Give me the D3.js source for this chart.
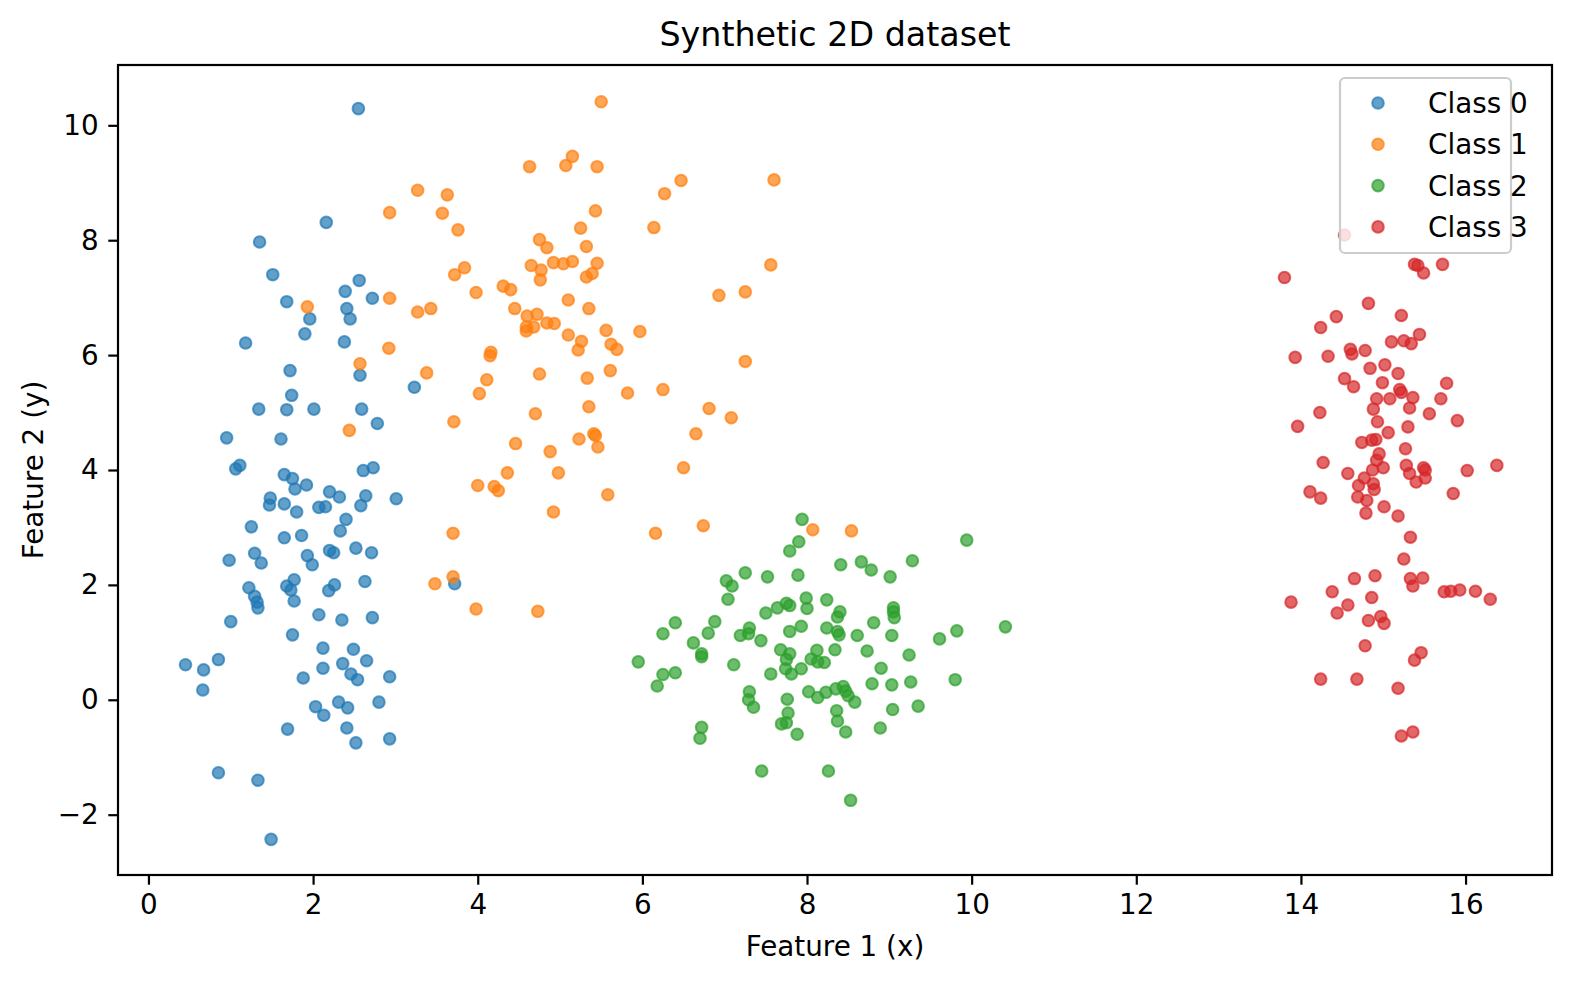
<!DOCTYPE html>
<html><head><meta charset="utf-8">
<script src="https://cdn.jsdelivr.net/npm/d3@7"></script>
<style>body{margin:0;background:#fff} svg{display:block} text{font-family:"DejaVu Sans",sans-serif;fill:#000}</style>
</head><body><svg id="chart" width="1576" height="986"></svg>
<script>
const classNames = ["Class 0", "Class 1", "Class 2", "Class 3"];
const classColors = ["#1f77b4", "#ff7f0e", "#2ca02c", "#d62728"];

const class0 = [[2.55,10.29],[2.16,8.31],[1.35,7.97],[1.51,7.40],[1.68,6.93],[1.96,6.63],[1.90,6.37],[1.18,6.21],[1.72,5.73],[2.56,7.30],[2.39,7.11],[2.72,6.99],[2.41,6.81],[2.45,6.63],[2.38,6.23],[2.57,5.65],[3.23,5.44],[1.74,5.30],[1.34,5.06],[1.68,5.05],[2.01,5.06],[2.59,5.06],[2.78,4.81],[0.95,4.56],[1.61,4.54],[1.06,4.02],[1.11,4.08],[1.65,3.92],[1.75,3.85],[1.78,3.67],[1.92,3.74],[2.20,3.62],[2.32,3.53],[2.61,3.99],[2.73,4.04],[2.64,3.55],[2.58,3.38],[3.01,3.50],[1.48,3.51],[1.47,3.39],[1.65,3.41],[1.80,3.27],[2.07,3.35],[2.15,3.36],[2.40,3.14],[2.33,2.94],[1.25,3.01],[1.65,2.82],[1.86,2.86],[2.20,2.60],[2.25,2.56],[2.52,2.64],[2.71,2.56],[0.98,2.43],[1.29,2.55],[1.37,2.38],[1.93,2.51],[1.99,2.35],[1.22,1.95],[1.29,1.80],[1.32,1.70],[1.33,1.60],[1.68,1.98],[1.77,2.09],[1.73,1.91],[1.77,1.72],[2.19,1.90],[2.26,2.00],[2.63,2.06],[2.07,1.48],[2.35,1.39],[2.72,1.43],[1.00,1.36],[1.75,1.13],[2.12,0.90],[2.49,0.88],[2.65,0.68],[2.36,0.63],[2.46,0.45],[2.54,0.35],[2.93,0.40],[2.12,0.55],[1.88,0.38],[0.45,0.61],[0.67,0.52],[0.85,0.70],[0.66,0.17],[2.03,-0.12],[2.13,-0.27],[2.31,-0.04],[2.42,-0.14],[2.80,-0.04],[2.41,-0.49],[2.52,-0.75],[2.93,-0.68],[1.69,-0.51],[0.85,-1.27],[1.33,-1.40],[1.49,-2.43],[3.72,2.02]];

const class1 = [[4.63,9.28],[3.27,8.87],[3.63,8.79],[2.93,8.48],[3.57,8.47],[3.76,8.18],[4.75,8.01],[4.84,7.87],[4.65,7.56],[4.77,7.48],[4.76,7.31],[3.84,7.52],[3.72,7.40],[4.31,7.20],[4.40,7.14],[3.98,7.09],[2.93,6.99],[1.93,6.84],[3.27,6.75],[3.43,6.81],[4.45,6.81],[4.60,6.68],[4.72,6.71],[4.84,6.56],[4.59,6.49],[4.59,6.42],[4.68,6.49],[2.92,6.12],[4.16,6.05],[4.15,5.99],[5.50,10.41],[5.15,9.46],[5.07,9.30],[5.45,9.28],[6.47,9.04],[6.27,8.81],[7.60,9.05],[5.43,8.51],[5.25,8.21],[6.14,8.22],[5.32,7.89],[4.92,7.61],[5.04,7.59],[5.15,7.63],[5.45,7.60],[5.32,7.36],[5.39,7.42],[7.56,7.57],[5.10,6.96],[5.35,6.81],[6.93,7.04],[7.25,7.10],[4.93,6.55],[5.10,6.35],[5.26,6.24],[5.22,6.09],[5.56,6.43],[5.97,6.41],[5.62,6.19],[5.69,6.10],[3.38,5.69],[4.11,5.57],[4.02,5.33],[4.75,5.67],[5.33,5.60],[5.61,5.73],[5.82,5.34],[6.25,5.40],[5.35,5.10],[4.70,4.98],[6.81,5.07],[7.08,4.91],[3.71,4.84],[5.41,4.63],[5.43,4.60],[5.23,4.54],[5.46,4.40],[6.65,4.63],[4.46,4.46],[4.88,4.32],[4.36,3.95],[4.98,3.95],[6.50,4.04],[4.00,3.73],[4.20,3.71],[4.25,3.64],[5.58,3.57],[4.92,3.27],[3.70,2.90],[6.16,2.90],[6.74,3.03],[3.70,2.14],[3.48,2.02],[3.98,1.58],[4.73,1.54],[2.57,5.85],[2.44,4.69],[7.25,5.89],[8.07,2.96],[8.54,2.94]];

const class2 = [[7.94,3.14],[7.90,2.75],[7.79,2.59],[7.25,2.21],[7.52,2.14],[7.89,2.17],[7.02,2.07],[7.09,1.98],[7.04,1.75],[7.99,1.77],[8.00,1.59],[7.50,1.51],[7.64,1.60],[7.75,1.68],[7.79,1.64],[6.40,1.34],[6.25,1.15],[6.88,1.36],[6.80,1.16],[6.62,0.99],[6.72,0.80],[6.72,0.75],[5.95,0.66],[7.30,1.25],[7.19,1.12],[7.29,1.15],[7.44,1.03],[7.79,1.19],[7.93,1.28],[7.11,0.61],[7.68,0.87],[7.79,0.80],[7.75,0.70],[7.74,0.54],[7.81,0.45],[7.93,0.54],[7.56,0.45],[8.12,0.86],[8.05,0.71],[8.13,0.66],[8.21,0.65],[6.25,0.44],[6.40,0.47],[6.18,0.24],[7.30,0.14],[7.29,0.00],[7.35,-0.13],[7.76,0.01],[8.02,0.14],[8.13,0.04],[7.77,-0.23],[7.69,-0.42],[7.75,-0.40],[7.88,-0.60],[6.72,-0.48],[6.70,-0.67],[7.45,-1.24],[9.94,2.78],[8.41,2.35],[8.66,2.40],[8.78,2.26],[9.01,2.14],[9.28,2.42],[8.24,1.74],[8.40,1.53],[8.37,1.44],[9.05,1.60],[9.05,1.53],[9.06,1.43],[8.24,1.25],[8.37,1.19],[8.39,1.13],[8.61,1.12],[8.81,1.34],[9.03,1.12],[9.61,1.06],[9.82,1.20],[10.41,1.27],[8.34,0.87],[8.73,0.85],[9.24,0.78],[8.90,0.55],[8.23,0.13],[8.35,0.19],[8.44,0.23],[8.47,0.15],[8.50,0.07],[8.58,-0.04],[8.79,0.28],[9.03,0.26],[9.26,0.31],[9.80,0.35],[8.36,-0.19],[8.37,-0.37],[8.47,-0.56],[9.04,-0.17],[9.35,-0.11],[8.89,-0.49],[8.26,-1.24],[8.53,-1.75]];

const class3 = [[14.53,8.09],[13.80,7.35],[15.38,7.58],[15.42,7.56],[15.49,7.43],[15.72,7.58],[14.82,6.90],[14.43,6.67],[14.24,6.48],[15.22,6.69],[15.44,6.36],[15.10,6.23],[15.25,6.25],[15.34,6.20],[13.93,5.96],[14.33,5.98],[14.60,6.10],[14.62,6.02],[14.78,6.08],[14.84,5.77],[15.02,5.83],[15.18,5.68],[14.53,5.59],[14.64,5.45],[14.99,5.52],[15.77,5.51],[15.20,5.40],[15.22,5.35],[14.92,5.24],[15.08,5.24],[15.36,5.26],[15.70,5.24],[14.88,5.06],[15.32,5.08],[15.56,4.98],[14.23,5.00],[13.96,4.76],[14.93,4.84],[15.30,4.75],[15.90,4.86],[15.06,4.65],[14.74,4.48],[14.86,4.52],[14.91,4.53],[14.95,4.28],[15.27,4.37],[14.27,4.13],[14.92,4.17],[15.00,4.04],[14.87,4.00],[15.28,4.08],[15.49,4.04],[15.51,4.00],[15.32,3.94],[16.02,3.99],[16.38,4.08],[14.57,3.94],[14.77,3.86],[14.70,3.73],[14.88,3.76],[15.40,3.79],[15.51,3.86],[14.11,3.62],[15.85,3.59],[14.89,3.66],[14.69,3.53],[14.80,3.47],[14.79,3.25],[14.24,3.51],[15.01,3.36],[15.18,3.20],[15.33,2.83],[15.25,2.45],[14.65,2.11],[14.90,2.16],[15.33,2.11],[15.48,2.12],[15.36,1.98],[14.38,1.88],[13.88,1.70],[14.57,1.65],[14.44,1.51],[14.86,1.78],[14.97,1.45],[14.82,1.38],[15.01,1.33],[15.74,1.88],[15.82,1.89],[15.93,1.91],[16.12,1.89],[16.30,1.75],[14.78,0.94],[15.46,0.82],[15.38,0.69],[14.24,0.36],[14.68,0.36],[15.18,0.20],[15.22,-0.63],[15.36,-0.56]];

const xTicks = [0, 2, 4, 6, 8, 10, 12, 14, 16];
const yTicks = [-2, 0, 2, 4, 6, 8, 10];
const xLimits = [-0.37, 17.05];
const yLimits = [-3.05, 11.05];
const titleText = "Synthetic 2D dataset";
const xLabelText = "Feature 1 (x)";
const yLabelText = "Feature 2 (y)";

const series = [class0, class1, class2, class3];

const svg = d3.select("#chart");
const L = 118, R = 1552, T = 65, B = 875;
const x = d3.scaleLinear().domain(xLimits).range([L, R]);
const y = d3.scaleLinear().domain(yLimits).range([B, T]);
const fs = 27.8, lw = 2.2, tickLen = 9.7, pad = 9.7;

svg.append("defs").append("clipPath").attr("id", "clip")
  .append("rect").attr("x", L).attr("y", T).attr("width", R - L).attr("height", B - T);

// points
const pts = svg.append("g").attr("clip-path", "url(#clip)");
series.forEach((data, i) => {
  pts.append("g").selectAll("circle").data(data).join("circle")
    .attr("cx", d => x(d[0])).attr("cy", d => y(d[1])).attr("r", 5.8)
    .attr("fill", classColors[i]).attr("fill-opacity", 0.7)
    .attr("stroke", classColors[i]).attr("stroke-opacity", 0.7).attr("stroke-width", 2);
});

// axes
const xAxis = svg.append("g").attr("transform", `translate(0,${B})`)
  .call(d3.axisBottom(x).tickValues(xTicks).tickSize(tickLen).tickPadding(pad).tickFormat(d3.format("d")));
const yAxis = svg.append("g").attr("transform", `translate(${L},0)`)
  .call(d3.axisLeft(y).tickValues(yTicks).tickSize(tickLen).tickPadding(pad).tickFormat(d3.format("d")));
[xAxis, yAxis].forEach(g => {
  g.select(".domain").remove();
  g.selectAll(".tick line").attr("stroke", "#000").attr("stroke-width", lw);
  g.selectAll(".tick text").attr("font-size", fs).attr("font-family", "DejaVu Sans").attr("fill", "#000");
});

// frame
svg.append("rect").attr("x", L).attr("y", T).attr("width", R - L).attr("height", B - T)
  .attr("fill", "none").attr("stroke", "#000").attr("stroke-width", lw);

// labels
svg.append("text").attr("x", (L + R) / 2).attr("y", 46).attr("text-anchor", "middle")
  .attr("font-size", 33.3).text(titleText);
svg.append("text").attr("x", (L + R) / 2).attr("y", 956).attr("text-anchor", "middle")
  .attr("font-size", fs).text(xLabelText);
svg.append("text").attr("transform", `translate(43,${(T + B) / 2}) rotate(-90)`).attr("text-anchor", "middle")
  .attr("font-size", fs).text(yLabelText);

// legend
const lg = svg.append("g");
lg.append("rect").attr("x", 1340).attr("y", 78).attr("width", 171).attr("height", 175).attr("rx", 5)
  .attr("fill", "#fff").attr("fill-opacity", 0.8).attr("stroke", "#cccccc").attr("stroke-width", lw);
classNames.forEach((name, i) => {
  const cy = 103 + i * 41.3;
  lg.append("circle").attr("cx", 1378).attr("cy", cy).attr("r", 5.8)
    .attr("fill", classColors[i]).attr("fill-opacity", 0.7)
    .attr("stroke", classColors[i]).attr("stroke-opacity", 0.7).attr("stroke-width", 2);
  lg.append("text").attr("x", 1428).attr("y", cy).attr("dy", "0.36em").attr("font-size", fs).text(name);
});
</script></body></html>
